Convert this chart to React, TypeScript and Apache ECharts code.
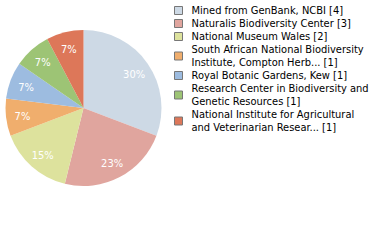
import React, { useEffect, useRef } from "react";
import * as echarts from "echarts";

const names = [
  "Mined from GenBank, NCBI [4]",
  "Naturalis Biodiversity Center [3]",
  "National Museum Wales [2]",
  "South African National Biodiversity\nInstitute, Compton Herb... [1]",
  "Royal Botanic Gardens, Kew [1]",
  "Research Center in Biodiversity and\nGenetic Resources [1]",
  "National Institute for Agricultural\nand Veterinarian Resear... [1]",
];
const values = [4, 3, 2, 1, 1, 1, 1];
const colors = ["#cdd9e5", "#e0a59e", "#dde29d", "#f0ae6d", "#9dbce0", "#9dc475", "#dd7759"];

export default function App() {
  const ref = useRef<HTMLDivElement>(null);
  useEffect(() => {
    document.body.style.margin = "0";
    const chart = echarts.init(ref.current!, null, { renderer: "svg" });
    const total = values.reduce((a, b) => a + b, 0);
    const data = names.map((n, i) => ({ name: n, value: values[i], itemStyle: { color: colors[i] } }));
    chart.setOption({
      animation: false,
      legend: {
        orient: "vertical",
        left: 174,
        top: 4,
        padding: 0,
        icon: "rect",
        itemWidth: 8,
        itemHeight: 8,
        itemGap: 0,
        selectedMode: false,
        itemStyle: { borderColor: "#777", borderWidth: 1 },
        textStyle: { fontFamily: "DejaVu Sans Condensed", fontSize: 11, color: "#000", lineHeight: 13, padding: [0, 0, 0, 4] },
        data: names.map((n, i) => ({ name: n, itemStyle: { color: colors[i] } })),
      },
      series: [
        {
          type: "pie",
          center: [83.5, 108],
          radius: 78,
          startAngle: 90,
          silent: true,
          label: { show: false },
          labelLine: { show: false },
          data,
        },
        {
          type: "pie",
          center: [83.5, 109],
          radius: [39, 78],
          startAngle: 90,
          silent: true,
          itemStyle: { color: "transparent" },
          labelLine: { show: false },
          label: {
            show: true,
            position: "inside",
            color: "#fff",
            fontFamily: "DejaVu Sans Condensed",
            fontSize: 11,
            formatter: (p: any) => Math.floor((p.value / total) * 100) + "%",
          },
          data: names.map((n, i) => ({ name: n, value: values[i] })),
        },
      ],
    });
    return () => chart.dispose();
  }, []);
  return <div ref={ref} style={{ width: 380, height: 240 }} />;
}
